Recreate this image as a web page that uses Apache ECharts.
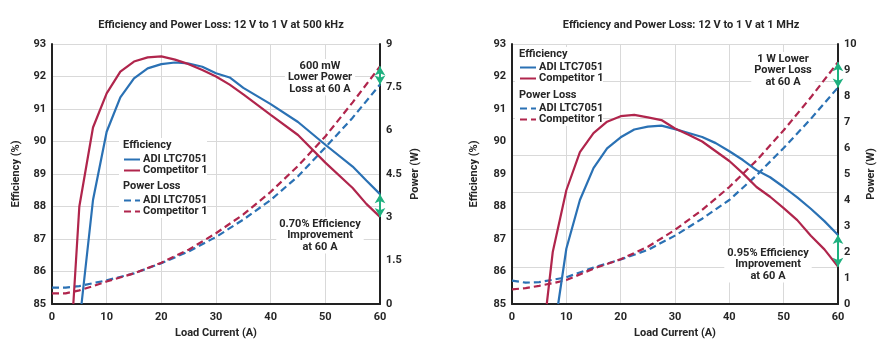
<!DOCTYPE html>
<html>
<head>
<meta charset="utf-8">
<script src="https://cdn.jsdelivr.net/npm/echarts@6/dist/echarts.min.js"></script>
<style>
  html, body { margin: 0; padding: 0; background: #fff; }
  #main { width: 878px; height: 354px; }
</style>
</head>
<body>
<div id="main"></div>
<script>
// 12 V to 1 V at 500 kHz
var effAdi500X = [5.4, 7.5, 10, 12.5, 15, 17.5, 20, 22.5, 25, 27.5, 30, 32.5, 35, 40, 45, 50, 55, 57.5, 60];
var effAdi500Y = [85, 88.2, 90.3, 91.36, 91.94, 92.25, 92.38, 92.43, 92.4, 92.3, 92.1, 91.97, 91.65, 91.15, 90.6, 89.9, 89.23, 88.8, 88.38];
var effComp500X = [3.9, 5, 7.5, 10, 12.5, 15, 17.5, 20, 22.5, 25, 27.5, 30, 32.5, 35, 40, 45, 50, 55, 57.5, 60];
var effComp500Y = [85, 88.0, 90.43, 91.48, 92.15, 92.46, 92.59, 92.62, 92.52, 92.38, 92.2, 92.0, 91.75, 91.45, 90.82, 90.2, 89.35, 88.57, 88.08, 87.68];
var pow500X = [0, 2.5, 5, 7.5, 10, 15, 20, 25, 30, 35, 40, 45, 50, 55, 60];
var powAdi500 = [0.57, 0.57, 0.62, 0.72, 0.82, 1.06, 1.41, 1.82, 2.32, 2.92, 3.6, 4.42, 5.42, 6.45, 7.6];
var powComp500 = [0.37, 0.37, 0.47, 0.62, 0.78, 1.06, 1.43, 1.88, 2.45, 3.1, 3.88, 4.78, 5.8, 6.98, 8.22];

// 12 V to 1 V at 1 MHz
var effAdi1mX = [8.5, 10, 12.5, 15, 17.5, 20, 22.5, 25, 27.5, 30, 32.5, 35, 37.5, 40, 42.5, 45, 47.5, 50, 52.5, 55, 57.5, 60];
var effAdi1mY = [85, 86.7, 88.2, 89.18, 89.79, 90.13, 90.37, 90.46, 90.49, 90.38, 90.26, 90.14, 89.95, 89.7, 89.43, 89.12, 88.9, 88.6, 88.28, 87.93, 87.55, 87.12];
var effComp1mX = [6.4, 7.5, 10, 12.5, 15, 17.5, 20, 22.5, 25, 27.5, 30, 32.5, 35, 37.5, 40, 42.5, 45, 47.5, 50, 52.5, 55, 57.5, 60];
var effComp1mY = [85, 86.6, 88.5, 89.67, 90.26, 90.61, 90.78, 90.82, 90.74, 90.66, 90.4, 90.21, 90.0, 89.7, 89.4, 89.02, 88.6, 88.3, 87.95, 87.58, 87.1, 86.68, 86.15];
var pow1mX = [0, 2.5, 5, 7.5, 10, 15, 20, 25, 30, 35, 40, 45, 50, 55, 60];
var powAdi1m = [0.9, 0.82, 0.84, 0.93, 1.03, 1.4, 1.71, 2.08, 2.63, 3.28, 4.0, 4.95, 6.0, 7.12, 8.33];
var powComp1m = [0.56, 0.61, 0.7, 0.8, 0.92, 1.36, 1.72, 2.2, 2.85, 3.62, 4.5, 5.52, 6.68, 7.95, 9.3];

var titles = ['Efficiency and Power Loss: 12 V to 1 V at 500 kHz', 'Efficiency and Power Loss: 12 V to 1 V at 1 MHz'];
var legendNames = {
  effAdi500: 'ADI LTC7051', effComp500: 'Competitor 1', powAdi500: 'ADI LTC7051', powComp500: 'Competitor 1',
  effAdi1m: 'ADI LTC7051', effComp1m: 'Competitor 1', powAdi1m: 'ADI LTC7051', powComp1m: 'Competitor 1'
};

var BLUE = '#2a71b4';
var RED = '#b0254c';
var GREEN = '#1fb07f';
var FONT = 'Roboto';
var TXT = '#262626';

function pairs(xs, ys) {
  return xs.map(function (x, i) { return [x, ys[i]]; });
}

function xAxisOf(grid) {
  return {
    type: 'value', gridIndex: grid, min: 0, max: 60, interval: 10,
    axisLine: { show: true, onZero: false, lineStyle: { color: '#222', width: 2 } },
    axisTick: { show: false },
    splitLine: { show: true, lineStyle: { color: '#d9d9d9', width: 1 } },
    axisLabel: { color: TXT, fontFamily: FONT, fontWeight: 'bold', fontSize: 11, margin: 8 },
    name: 'Load Current (A)', nameLocation: 'middle', nameGap: 24,
    nameTextStyle: { color: TXT, fontFamily: FONT, fontWeight: 'bold', fontSize: 11 }
  };
}

function effAxis(grid, showSplit, gap) {
  return {
    type: 'value', gridIndex: grid, min: 85, max: 93, interval: 1, position: 'left',
    axisLine: { show: true, lineStyle: { color: '#222', width: 2 } },
    axisTick: { show: false },
    splitLine: { show: showSplit, lineStyle: { color: '#d9d9d9', width: 1 } },
    axisLabel: { color: TXT, fontFamily: FONT, fontWeight: 'bold', fontSize: 11, margin: 6 },
    name: 'Efficiency (%)', nameLocation: 'middle', nameGap: gap, nameRotate: 90,
    nameTextStyle: { color: TXT, fontFamily: FONT, fontWeight: 'bold', fontSize: 11 }
  };
}

function powAxis(grid, max, interval, gap) {
  return {
    type: 'value', gridIndex: grid, min: 0, max: max, interval: interval, position: 'right',
    axisLine: { show: true, lineStyle: { color: '#222', width: 2 } },
    axisTick: { show: false },
    splitLine: { show: false },
    axisLabel: { color: TXT, fontFamily: FONT, fontWeight: 'bold', fontSize: 11, margin: 6 },
    name: 'Power (W)', nameLocation: 'middle', nameGap: gap, nameRotate: 90,
    nameTextStyle: { color: TXT, fontFamily: FONT, fontWeight: 'bold', fontSize: 11 }
  };
}

function line(name, x, y, xi, yi, color, dashed) {
  return {
    name: name, type: 'line', xAxisIndex: xi, yAxisIndex: yi,
    data: pairs(x, y), symbol: 'none', smooth: false, clip: true,
    lineStyle: { color: color, width: 2.2, type: dashed ? [7, 4] : 'solid' },
    itemStyle: { color: color }
  };
}

function arrow(series, from, to) {
  series.markLine = {
    silent: true, symbol: ['arrow', 'arrow'], symbolSize: [8, 9],
    label: { show: false },
    lineStyle: { color: GREEN, width: 2, type: 'solid' },
    data: [[{ coord: from }, { coord: to }]]
  };
  return series;
}

function legendOf(left, top, names) {
  return {
    orient: 'vertical', left: left, top: top, data: names,
    itemWidth: 16, itemHeight: 3, itemGap: 0, padding: 0,
    selectedMode: false,
    itemStyle: { opacity: 0 },
    formatter: function (n) { return legendNames[n]; },
    textStyle: { color: TXT, fontFamily: FONT, fontWeight: 'bold', fontSize: 11, lineHeight: 11, padding: [0, 0, 0, -2] }
  };
}

function note(cx, top, text) {
  return {
    type: 'text', x: cx, y: top, z: 20,
    style: {
      text: text, fill: TXT, font: 'bold 11px ' + FONT, align: 'center', verticalAlign: 'top',
      lineHeight: 11.5, backgroundColor: '#fff', padding: [1, 3]
    }
  };
}

function header(x, y, text) {
  return {
    type: 'text', x: x, y: y, z: 20,
    style: { text: text, fill: TXT, font: 'bold 11px ' + FONT, verticalAlign: 'top' }
  };
}

function patch(x, y, w, h) {
  return { type: 'rect', z: 3, shape: { x: x, y: y, width: w, height: h }, style: { fill: '#fff' } };
}

var chart = echarts.init(document.getElementById('main'), null, { renderer: 'canvas' });

var option = {
  animation: false,
  backgroundColor: '#fff',
  title: [
    { text: titles[0], left: 216, top: 15, textAlign: 'center',
      textStyle: { color: TXT, fontFamily: FONT, fontWeight: 'bold', fontSize: 11 } },
    { text: titles[1], left: 676, top: 15, textAlign: 'center',
      textStyle: { color: TXT, fontFamily: FONT, fontWeight: 'bold', fontSize: 11 } }
  ],
  grid: [
    { left: 52, top: 44, width: 328, height: 260 },
    { left: 512, top: 44, width: 327, height: 260 }
  ],
  xAxis: [xAxisOf(0), xAxisOf(1)],
  yAxis: [
    effAxis(0, true, 30),
    powAxis(0, 9, 1.5, 30),
    effAxis(1, false, 32),
    powAxis(1, 10, 1, 28),
    // plain grid of the 1 MHz panel (7 bands)
    { type: 'value', gridIndex: 1, min: 0, max: 7, interval: 1, position: 'left',
      axisLine: { show: false }, axisTick: { show: false }, axisLabel: { show: false },
      splitLine: { show: true, lineStyle: { color: '#d9d9d9', width: 1 } } }
  ],
  legend: [
    legendOf(123, 154, ['effAdi500', 'effComp500']),
    legendOf(123, 195, ['powAdi500', 'powComp500']),
    legendOf(519, 62, ['effAdi1m', 'effComp1m']),
    legendOf(519, 103, ['powAdi1m', 'powComp1m'])
  ],
  graphic: [
    patch(119, 138, 88, 80),
    patch(515, 47, 88, 79),
    header(123, 140, 'Efficiency'),
    header(123, 181, 'Power Loss'),
    header(519, 49, 'Efficiency'),
    header(519, 90, 'Power Loss'),
    note(320, 59, '600 mW\nLower Power\nLoss at 60 A'),
    note(320, 217, '0.70% Efficiency\nImprovement\nat 60 A'),
    note(783, 52, '1 W Lower\nPower Loss\nat 60 A'),
    note(768, 246, '0.95% Efficiency\nImprovement\nat 60 A')
  ],
  series: [
    line('powAdi500', pow500X, powAdi500, 0, 1, BLUE, true),
    arrow(line('powComp500', pow500X, powComp500, 0, 1, RED, true), [60, 7.6], [60, 8.22]),
    line('effAdi500', effAdi500X, effAdi500Y, 0, 0, BLUE, false),
    arrow(line('effComp500', effComp500X, effComp500Y, 0, 0, RED, false), [60, 88.38], [60, 87.68]),
    line('powAdi1m', pow1mX, powAdi1m, 1, 3, BLUE, true),
    arrow(line('powComp1m', pow1mX, powComp1m, 1, 3, RED, true), [60, 8.33], [60, 9.3]),
    line('effAdi1m', effAdi1mX, effAdi1mY, 1, 2, BLUE, false),
    arrow(line('effComp1m', effComp1mX, effComp1mY, 1, 2, RED, false), [60, 87.12], [60, 86.15])
  ]
};

chart.setOption(option);
</script>
</body>
</html>
